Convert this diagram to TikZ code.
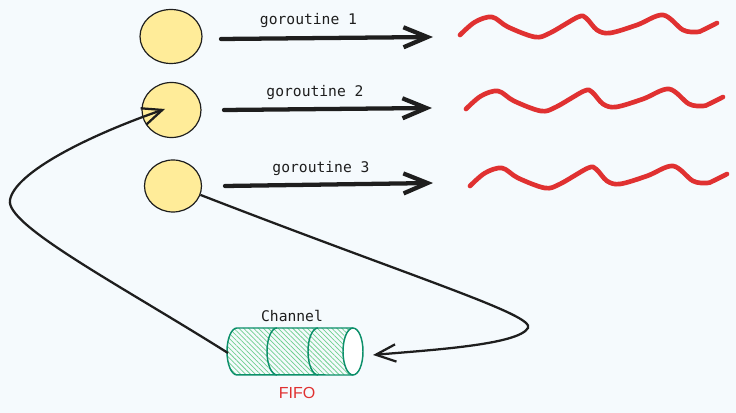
\documentclass[tikz,border=0pt]{standalone}
\usepackage{fontspec}
\setmonofont{DejaVu Sans Mono}
\setsansfont{Liberation Sans}
\usepackage{tikz}
\usetikzlibrary{arrows.meta, positioning, calc, shapes.geometric, patterns.meta}

\definecolor{ink}{HTML}{1E1E1E}
\definecolor{paper}{HTML}{F5FAFD}
\definecolor{yolk}{HTML}{FFEC99}
\definecolor{wave}{HTML}{E03131}
\definecolor{pipe}{HTML}{0C8F6A}
\definecolor{hatch}{HTML}{6FCF8F}

\begin{document}
\begin{tikzpicture}[x=0.75pt,y=-0.75pt,
  gor/.style={ellipse, draw=ink, line width=0.9pt, fill=yolk, inner sep=0pt},
  flow/.style={draw=ink, line width=3.2pt, line cap=round,
    -{Straight Barb[length=18pt,width=15pt]}},
  link/.style={draw=ink, line width=1.7pt,
    -{Straight Barb[length=15pt,width=13pt]}},
  lbl/.style={font=\ttfamily\fontsize{11}{13}\selectfont, text=ink},
  squig/.style={draw=wave, line width=3.5pt, line cap=round, line join=round},
  tube/.style={draw=pipe, line width=1.1pt}]
\fill[paper] (0,0) rectangle (736,413);
\useasboundingbox (0,0) rectangle (736,413);

\node[gor, minimum width=46.5pt, minimum height=40.5pt] (g1) at (171,36.5) {};
\node[gor, minimum width=44.25pt, minimum height=41.25pt] (g2) at (171.5,110) {};
\node[gor, minimum width=42.75pt, minimum height=39pt] (g3) at (173,186) {};

\foreach \n/\sx/\sy/\ex/\ey/\lx/\ly in {1/221/39/433/37/308.5/21,
  2/224/110/432/108/315/92.5, 3/225/186/433/183/321/169} {
\coordinate (s\n) at (\sx,\sy);
\coordinate (e\n) at (\ex,\ey);
\draw[flow] (s\n) -- (e\n);
\node[lbl] (lab\n) at (\lx,\ly) {goroutine \n};
}

\foreach \dx/\dy in {0/0, 6/74, 10/151} {
\draw[squig, shift={(\dx,\dy)}] plot[smooth, tension=0.55] coordinates {
  (460,35) (475,22) (492,17) (508,27) (535,37) (550,33) (578,17) (586,18)
  (597,30) (610,33) (637,25) (663,15) (683,30) (697,32) (703,30) (717,23)};
}

\fill[pattern={Lines[angle=-45,distance=2.6pt,line width=0.55pt]}, pattern color=hatch]
  (237,328) arc[start angle=90, end angle=270, x radius=7.5pt, y radius=17.6pt]
  -- (353,375) -- (353,328) -- cycle;
\draw[tube] (237,328) arc[start angle=90, end angle=270, x radius=7.5pt, y radius=17.6pt]
  -- (353,375) (237,328) -- (353,328);
\foreach \x in {277, 318} {
\draw[tube] (\x,328) arc[start angle=90, end angle=270, x radius=7.5pt, y radius=17.6pt];
}
\draw[tube, fill=white] (353,351.5) ellipse[x radius=7.5pt, y radius=17.6pt];
\node[lbl] (chan) at (292,316) {Channel};
\node[text=wave, font=\sffamily\fontsize{12}{14}\selectfont] (fifo) at (297,393) {FIFO};

\coordinate (qin) at (373,355);
\coordinate (qout) at (228,353);
\coordinate (tip2) at (165,109);
\draw[link] (qout) .. controls (120,285) and (5,225) .. (10,200)
  .. controls (15,172) and (90,135) .. (tip2);
\draw[link] (g3.-18) .. controls (420,280) and (535,315) .. (528,328)
  .. controls (518,345) and (430,350) .. (qin);
\end{tikzpicture}
\end{document}
